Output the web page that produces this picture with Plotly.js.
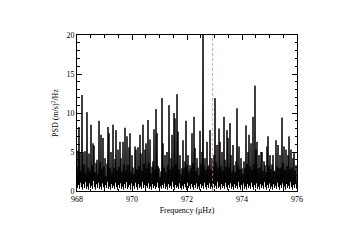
<!DOCTYPE html>
<html>
<head>
<meta charset="utf-8">
<script src="https://cdn.plot.ly/plotly-3.0.1.min.js"></script>
<style>html,body{margin:0;padding:0;background:#fff;}#chart{width:339px;height:240px;}</style>
</head>
<body>
<div id="chart"></div>
<script>
// Frequency grid of the spectrum (muHz): start and bin width
const freqStart = 968.0;
const freqBin = 1 / 55;
// PSD values, (m/s)^2/Hz, one per frequency bin
const psd = [
3.1,0.4, 5.2,0.8, 8.2,0.3, 4.9,1.1, 2.6,0.5, 12.3,0.2, 5.0,0.9, 3.4,0.4, 5.1,1.2, 2.2,0.3,
10.1,0.6, 3.0,0.2, 4.8,1.0, 2.5,0.4, 8.5,0.7, 3.3,0.3, 6.1,1.3, 5.8,0.5, 2.4,0.2, 3.6,0.9,
4.0,0.4, 2.1,1.1, 9.0,0.3, 3.7,0.6, 7.2,0.2, 2.8,1.0, 6.8,0.5, 3.2,0.3, 4.2,0.8, 1.9,0.4,
3.5,1.2, 8.2,0.3, 7.4,0.6, 2.9,0.2, 5.0,0.9, 2.3,0.4, 8.5,0.7, 3.0,0.3, 4.1,1.1, 7.8,0.5,
2.7,0.2, 5.3,0.8, 3.1,0.4, 6.3,1.0, 4.2,0.3, 2.5,0.6, 6.3,0.2, 3.4,0.9, 8.1,0.4, 2.6,1.2,
7.0,0.3, 3.3,0.5, 5.6,0.8, 7.4,0.2, 2.4,1.0, 4.6,0.4, 3.0,0.7, 2.2,0.3, 5.7,1.1, 5.3,0.5,
2.8,0.2, 5.6,0.9, 3.2,0.4, 7.2,0.6, 4.8,0.3, 2.6,1.2, 8.5,0.4, 3.5,0.8, 5.3,0.2, 6.1,0.7,
2.9,0.4, 9.1,1.0, 3.6,0.3, 6.6,0.6, 2.3,0.2, 3.1,0.9, 3.8,0.4, 7.9,0.7, 2.7,0.3, 10.5,0.5,
7.4,1.1, 3.2,0.4, 2.9,0.2, 1.8,0.6, 2.5,0.3, 11.9,0.8, 6.1,0.4, 3.0,1.0, 4.6,0.3, 2.4,0.6,
5.0,0.2, 3.3,0.9, 11.0,0.4, 2.8,0.7, 4.2,0.3, 7.2,1.2, 3.1,0.5, 10.0,0.2, 9.3,0.8, 3.4,0.4,
12.4,0.6, 7.6,0.3, 2.7,1.0, 4.6,0.4, 2.2,0.2, 2.9,0.7, 6.5,0.3, 3.0,0.9, 3.8,0.5, 9.0,0.2,
3.3,1.1, 4.6,0.4, 2.5,0.7, 3.3,0.3, 2.9,0.9, 7.4,0.5, 3.6,0.2, 9.5,0.8, 5.5,0.4, 2.6,1.0,
4.2,0.3, 3.0,0.6, 2.0,0.2, 7.7,0.9, 3.4,0.4, 5.0,0.7, 21.5,0.3, 3.2,1.1, 4.2,0.5, 2.7,0.2,
6.3,0.8, 3.1,0.4, 3.3,1.0, 7.8,0.3, 2.8,0.6, 4.2,0.2, 3.0,0.9, 4.6,0.4, 11.9,0.7, 3.6,0.3,
5.9,1.2, 2.9,0.4, 8.0,0.6, 6.3,0.2, 3.2,0.9, 5.0,0.4, 2.6,0.7, 9.5,0.3, 4.0,1.1, 3.1,0.5,
7.8,0.2, 6.8,0.8, 3.0,0.4, 8.7,1.0, 4.6,0.3, 2.5,0.6, 5.9,0.2, 3.3,0.9, 2.4,0.4, 3.8,0.7,
10.6,0.3, 3.2,1.2, 5.7,0.5, 2.8,0.2, 4.2,0.8, 2.9,0.4, 2.2,1.0, 3.8,0.3, 3.0,0.6, 8.4,0.2,
3.5,0.9, 5.0,0.4, 7.2,0.7, 3.1,0.3, 6.1,1.1, 2.7,0.5, 9.5,0.2, 3.4,0.8, 13.5,0.4, 5.3,1.0,
6.3,0.3, 2.9,0.6, 4.6,0.2, 3.0,0.9, 5.0,0.4, 5.0,0.7, 2.6,0.3, 3.8,1.2, 3.3,0.5, 2.4,0.2,
5.7,0.8, 7.0,0.4, 3.2,1.0, 4.6,0.3, 2.8,0.6, 3.4,0.2, 4.6,0.9, 2.6,0.4, 2.5,0.7, 6.5,0.3,
3.1,1.1, 5.9,0.5, 2.9,0.2, 4.6,0.8, 3.0,0.4, 9.4,1.0, 3.6,0.3, 5.7,0.6, 2.7,0.2, 5.3,0.9,
3.2,0.4, 4.6,0.7, 7.0,0.3, 2.8,1.2, 5.3,0.5, 3.0,0.2, 4.2,0.8, 5.0,0.4, 2.6,1.0, 3.3,0.3
];
// Marked frequency (red dashed line), muHz
const markFreq = 972.93;
// Axis tick labels
const xTicks = [968, 970, 972, 974, 976];
const yTicks = [0, 5, 10, 15, 20];

const freq = psd.map((_, i) => freqStart + i * freqBin);

const fnt = {family: 'Liberation Serif, serif', size: 8, color: '#000'};

const trace = {
  x: freq, y: psd, type: 'scatter', mode: 'lines',
  line: {color: '#000', width: 1},
  hoverinfo: 'skip'
};

const layout = {
  width: 339, height: 240,
  margin: {l: 77, r: 42, t: 35, b: 49},
  paper_bgcolor: '#fff', plot_bgcolor: '#fff',
  showlegend: false,
  font: fnt,
  xaxis: {
    range: [968, 976], tickvals: xTicks, ticktext: xTicks.map(String),
    ticks: 'inside', ticklen: 5, tickwidth: 1, tickcolor: '#000',
    minor: {dtick: 0.5, ticks: 'inside', ticklen: 2.5, tickcolor: '#000', tickwidth: 1},
    showline: true, linecolor: '#000', linewidth: 1, mirror: 'allticks',
    showgrid: false, zeroline: false,
    tickfont: fnt,
    title: {text: 'Frequency (μHz)', font: fnt, standoff: 4}
  },
  yaxis: {
    range: [0, 20], tickvals: yTicks, ticktext: yTicks.map(String),
    ticks: 'inside', ticklen: 5, tickwidth: 1, tickcolor: '#000',
    minor: {dtick: 1, ticks: 'inside', ticklen: 2.5, tickcolor: '#000', tickwidth: 1},
    showline: true, linecolor: '#000', linewidth: 1, mirror: 'allticks',
    showgrid: false, zeroline: false,
    tickfont: fnt,
    title: {text: 'PSD (m/s)<sup>2</sup>/Hz', font: fnt, standoff: 6}
  },
  shapes: [{
    type: 'line', xref: 'x', yref: 'paper', x0: markFreq, x1: markFreq, y0: 0, y1: 1,
    line: {color: 'rgba(245,110,110,0.7)', width: 1, dash: '3px,2px'}
  }]
};

Plotly.newPlot('chart', [trace], layout, {displayModeBar: false, staticPlot: true});
</script>
</body>
</html>
